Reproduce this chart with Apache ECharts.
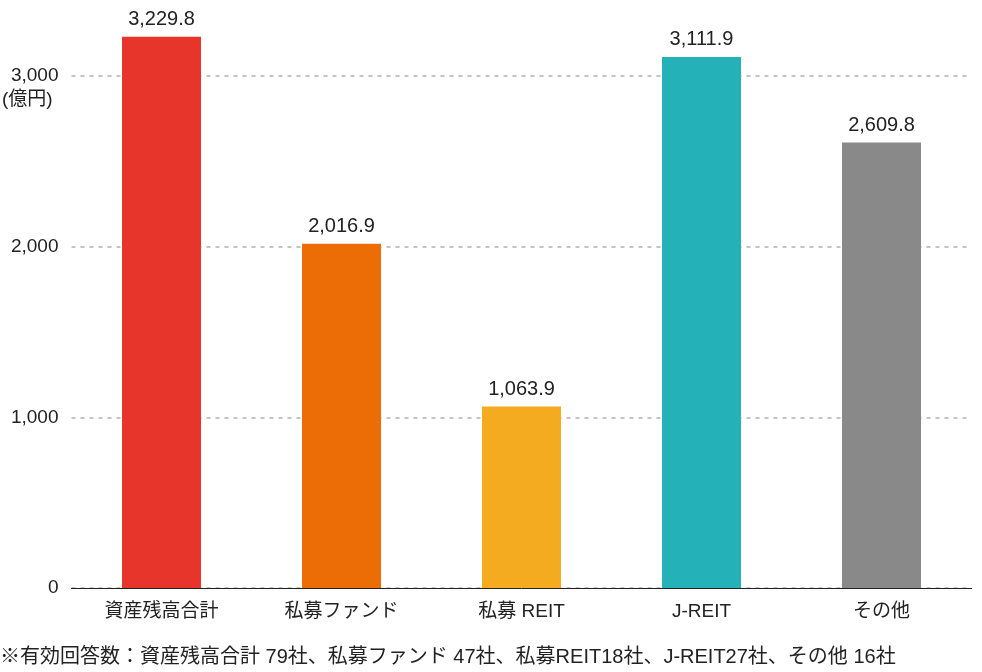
<!DOCTYPE html>
<html><head><meta charset="utf-8">
<script src="https://cdn.jsdelivr.net/npm/echarts@6/dist/echarts.min.js"></script>
<style>html,body{margin:0;padding:0;background:#fff}#c{width:982px;height:672px}</style>
</head><body><div id="c"></div>
<script>
const categories = ['資産残高合計', '私募ファンド', '私募 REIT', 'J-REIT', 'その他'];
const values = [3229.8, 2016.9, 1063.9, 3111.9, 2609.8];
const barColors = ['#E8352B', '#EC6C05', '#F5AB20', '#25B1B8', '#898989'];
const yTicks = [0, 1000, 2000, 3000];
const unitLabel = '(億円)';
const footnote = '※有効回答数：資産残高合計 79社、私募ファンド 47社、私募REIT18社、J-REIT27社、その他 16社';

const FONT = "'Liberation Sans', 'Noto Sans CJK JP', sans-serif";
const chart = echarts.init(document.getElementById('c'), null, {renderer: 'canvas'});
chart.setOption({
  animation: false,
  grid: {left: 71.5, right: 10.5, top: 76, bottom: 84, containLabel: false},
  xAxis: {
    type: 'category', data: categories,
    axisLine: {show: true, lineStyle: {color: '#222', width: 1}},
    axisTick: {show: false},
    axisLabel: {color: '#222', fontSize: 19, fontFamily: FONT, margin: 14}
  },
  yAxis: {
    type: 'value', min: yTicks[0], max: yTicks[yTicks.length - 1], interval: 1000,
    axisLine: {show: false}, axisTick: {show: false},
    axisLabel: {color: '#222', fontSize: 19, fontFamily: FONT, margin: 13,
      formatter: v => v.toLocaleString('en-US')},
    splitLine: {show: true, lineStyle: {color: '#c4c4c4', width: 2, type: [4, 5]}}
  },
  graphic: [
    {type: 'text', left: 2, top: 90, style: {text: unitLabel, fill: '#222', font: '19px ' + FONT}},
    {type: 'text', left: 0, top: 647, style: {text: footnote, fill: '#222', font: '20px ' + FONT}}
  ],
  series: [{
    type: 'bar', clip: false, barWidth: 79,
    data: values.map((v, i) => ({value: v, itemStyle: {color: barColors[i]}})),
    label: {show: true, position: 'top', distance: 7, color: '#222', fontSize: 20, fontFamily: FONT,
      formatter: p => p.value.toLocaleString('en-US', {minimumFractionDigits: 1, maximumFractionDigits: 1})}
  }]
});
</script></body></html>
